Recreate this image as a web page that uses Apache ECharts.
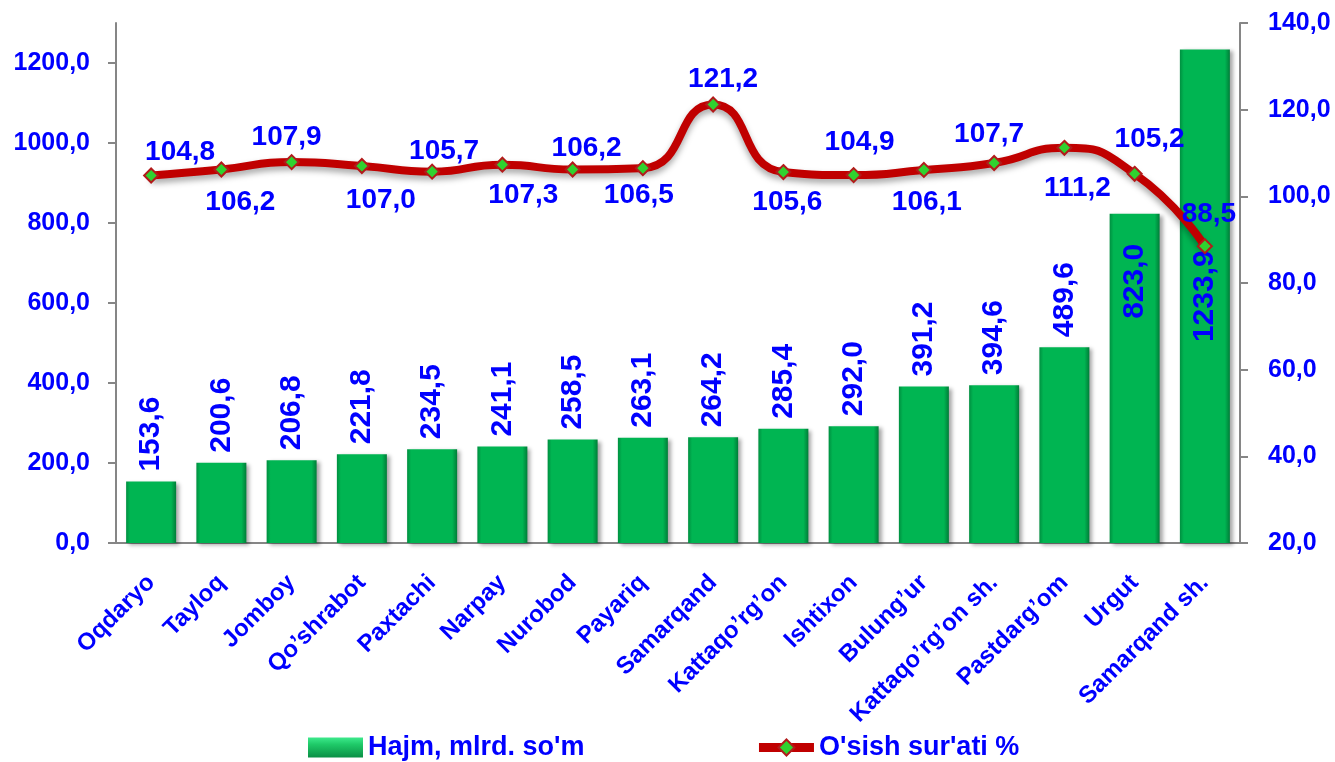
<!DOCTYPE html>
<html>
<head>
<meta charset="utf-8">
<title>Hajm va o'sish sur'ati</title>
<script src="https://cdn.jsdelivr.net/npm/echarts@6/dist/echarts.min.js"></script>
<style>
html, body { margin: 0; padding: 0; background: #fff; }
#main { width: 1335px; height: 762px; }
</style>
</head>
<body>
<div id="main"></div>
<script>
// tumanlar
var categories = ['Oqdaryo', 'Tayloq', 'Jomboy', 'Qo\u2019shrabot', 'Paxtachi', 'Narpay', 'Nurobod', 'Payariq',
  'Samarqand', 'Kattaqo\u2019rg\u2019on', 'Ishtixon', 'Bulung\u2019ur', 'Kattaqo\u2019rg\u2019on sh.', 'Pastdarg\u2019om',
  'Urgut', 'Samarqand sh.'];
// Hajm, mlrd. so'm
var hajm = [153.6, 200.6, 206.8, 221.8, 234.5, 241.1, 258.5, 263.1, 264.2, 285.4, 292.0, 391.2, 394.6, 489.6, 823.0, 1233.9];
// O'sish sur'ati %
var osish = [104.8, 106.2, 107.9, 107.0, 105.7, 107.3, 106.2, 106.5, 121.2, 105.6, 104.9, 106.1, 107.7, 111.2, 105.2, 88.5];
var leftTicks = [0, 200, 400, 600, 800, 1000, 1200];
var rightTicks = [20, 40, 60, 80, 100, 120, 140];

// label joylashuvi (faqat bezak uchun)
var lineLabelOffsets = [[29, -23], [19, 33], [-5, -25], [19, 34], [12, -20], [21, 31], [14, -21], [-4, 27],
  [10, -25], [4, 30], [6, -33], [3, 32], [-5, -29], [13, 40], [15, -35], [4, -32]];

var blue = '#0000FF';
var font = '"Liberation Sans", Arial, sans-serif';

function fmt(v) {
  return Number(v).toFixed(1).replace('.', ',');
}

var barFill = new echarts.graphic.LinearGradient(0, 0, 1, 0, [
  { offset: 0, color: '#008f40' },
  { offset: 0.08, color: '#00b552' },
  { offset: 0.9, color: '#00b552' },
  { offset: 1, color: '#007d38' }
]);
var legendBarFill = new echarts.graphic.LinearGradient(0, 0, 0, 1, [
  { offset: 0, color: '#3de98c' },
  { offset: 0.35, color: '#1fc968' },
  { offset: 1, color: '#0a8f45' }
]);

var barData = hajm.map(function (v, i) {
  var lbl;
  if (i == hajm.length - 1) {
    lbl = { position: 'inside', align: 'center' };
  } else if (i == hajm.length - 2) {
    lbl = { position: 'insideTop', align: 'right', distance: 30 };
  } else {
    lbl = { position: 'top', align: 'left', distance: 10 };
  }
  return { value: v, label: lbl };
});

var lineData = osish.map(function (v, i) {
  return { value: v, label: { offset: lineLabelOffsets[i] } };
});

var option = {
  animation: false,
  textStyle: { fontFamily: font },
  grid: { left: 116, right: 95, top: 23, bottom: 219 },
  legend: {
    top: 729,
    left: 303,
    itemGap: 170,
    itemWidth: 55,
    itemHeight: 20,
    textStyle: { color: blue, fontWeight: 'bold', fontSize: 27, fontFamily: font },
    data: [
      { name: 'Hajm, mlrd. so\'m', icon: 'rect', itemStyle: { color: legendBarFill } },
      {
        name: 'O\'sish sur\'ati %',
        lineStyle: { width: 9, color: '#c00000' },
        itemStyle: { color: '#2fd22f', borderColor: '#b21b1b', borderWidth: 2 }
      }
    ]
  },
  xAxis: {
    type: 'category',
    data: categories,
    axisLine: { lineStyle: { color: '#868686', width: 2 } },
    axisTick: { length: 7, lineStyle: { color: '#868686', width: 2 } },
    axisLabel: {
      rotate: 45, interval: 0, margin: 36,
      color: blue, fontWeight: 'bold', fontSize: 24, fontFamily: font
    }
  },
  yAxis: [
    {
      type: 'value',
      min: 0, max: 1300,
      splitLine: { show: false },
      axisLine: { show: true, lineStyle: { color: '#868686', width: 2 } },
      axisTick: { show: true, length: 8, customValues: leftTicks, lineStyle: { color: '#868686', width: 2 } },
      axisLabel: {
        customValues: leftTicks, margin: 26, formatter: fmt,
        color: blue, fontWeight: 'bold', fontSize: 25, fontFamily: font
      }
    },
    {
      type: 'value',
      min: 20, max: 140, interval: 20,
      position: 'right',
      splitLine: { show: false },
      axisLine: { show: true, lineStyle: { color: '#868686', width: 2 } },
      axisTick: { show: true, length: 8, customValues: rightTicks, lineStyle: { color: '#868686', width: 2 } },
      axisLabel: {
        customValues: rightTicks, margin: 28, formatter: fmt,
        color: blue, fontWeight: 'bold', fontSize: 25, fontFamily: font
      }
    }
  ],
  series: [
    {
      name: 'Hajm, mlrd. so\'m',
      type: 'bar',
      yAxisIndex: 0,
      barWidth: 50,
      data: barData,
      itemStyle: {
        color: barFill,
        shadowColor: 'rgba(0,0,0,0.35)',
        shadowBlur: 4,
        shadowOffsetX: 3,
        shadowOffsetY: 2
      },
      label: {
        show: true,
        rotate: 90,
        verticalAlign: 'middle',
        formatter: function (p) { return fmt(p.value); },
        color: blue, fontWeight: 'bold', fontSize: 30, fontFamily: font
      },
      z: 2
    },
    {
      name: 'O\'sish sur\'ati %',
      type: 'line',
      yAxisIndex: 1,
      smooth: 0.55,
      data: lineData,
      symbol: 'diamond',
      symbolSize: 14,
      lineStyle: {
        color: '#c00000',
        width: 8,
        shadowColor: 'rgba(0,0,0,0.35)',
        shadowBlur: 6,
        shadowOffsetY: 4
      },
      itemStyle: {
        color: '#2fd22f',
        borderColor: '#b21b1b',
        borderWidth: 2
      },
      label: {
        show: true,
        position: 'inside',
        formatter: function (p) { return fmt(p.value); },
        color: blue, fontWeight: 'bold', fontSize: 28, fontFamily: font
      },
      z: 3
    }
  ]
};

var myChart = echarts.init(document.getElementById('main'));
myChart.setOption(option);

window.onresize = function () {
  myChart.resize();
};
</script>
</body>
</html>
